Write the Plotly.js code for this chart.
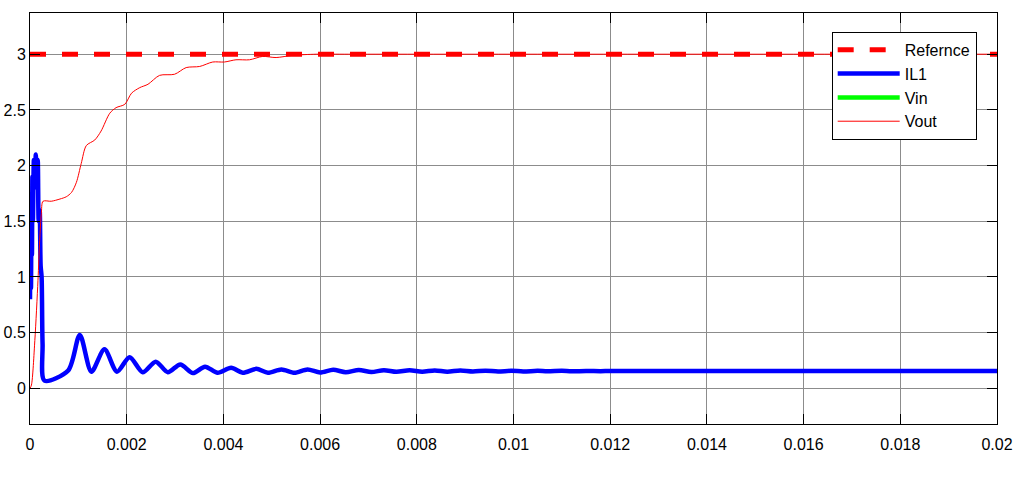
<!DOCTYPE html>
<html>
<head>
<meta charset="utf-8">
<script src="https://cdn.plot.ly/plotly-3.0.1.min.js"></script>
<style>
  html, body { margin: 0; padding: 0; background: #fff; }
  #chart { width: 1025px; height: 482px; }
</style>
</head>
<body>
<div id="chart"></div>
<script>
// уставка
const refTime = [0, 0.02];
const refValue = [3, 3];

// ток дросселя IL1
const ilTime = [0, 0.00001, 0.00002, 0.00003, 0.00004, 0.00005, 0.00006, 0.00008, 0.0001, 0.00012,
  0.00014, 0.00016, 0.00018, 0.0002, 0.00022, 0.00024, 0.00026, 0.0003, 0.00079, 0.00103,
  0.00127, 0.00154, 0.0018, 0.00206, 0.00233, 0.0026, 0.00285, 0.00311, 0.00337, 0.00362,
  0.00388, 0.00416, 0.0044, 0.00468, 0.00492, 0.0052, 0.00547, 0.00574, 0.006, 0.00627,
  0.00653, 0.0068, 0.00706, 0.00732, 0.00758, 0.00785, 0.00811, 0.00837, 0.00863, 0.0089,
  0.00916, 0.00942, 0.00968, 0.00995, 0.0102, 0.0105, 0.0107, 0.011, 0.0112, 0.0115,
  0.0118, 0.012, 0.013, 0.02];
const ilValue = [0.8, 1.3, 0.9, 1.6, 1.2, 1.9, 1.5, 2.05, 1.8, 2.1,
  1.9, 2.05, 1.5, 1.6, 1.1, 1.0, 0.4, 0.07, 0.16, 0.48,
  0.15, 0.35, 0.15, 0.28, 0.145, 0.24, 0.145, 0.215, 0.137, 0.195,
  0.14, 0.185, 0.14, 0.175, 0.14, 0.17, 0.14, 0.17, 0.142, 0.167,
  0.145, 0.165, 0.147, 0.163, 0.148, 0.162, 0.149, 0.161, 0.15, 0.16,
  0.151, 0.159, 0.151, 0.158, 0.152, 0.157, 0.153, 0.157, 0.153, 0.156,
  0.154, 0.156, 0.155, 0.155];

// входное напряжение (на графике не видно, только в легенде)
const vinTime = [0];
const vinValue = [null];

// выходное напряжение
const voutTime = [0, 0.00003, 0.0001, 0.000165, 0.0002, 0.000235, 0.00027, 0.00044, 0.00062, 0.00075,
  0.00086, 0.00096, 0.00106, 0.001165, 0.00134, 0.00147, 0.00165, 0.00178, 0.00196, 0.0021,
  0.00227, 0.00244, 0.00268, 0.00299, 0.00323, 0.00351, 0.00378, 0.00402, 0.00426, 0.00454,
  0.00481, 0.00509, 0.00543, 0.00592, 0.0065, 0.02];
const voutValue = [0, 0.03, 0.43, 0.97, 1.33, 1.57, 1.68, 1.68, 1.70, 1.72,
  1.76, 1.85, 2.02, 2.18, 2.23, 2.31, 2.47, 2.52, 2.55, 2.65,
  2.70, 2.73, 2.81, 2.82, 2.88, 2.89, 2.93, 2.93, 2.95, 2.95,
  2.98, 2.97, 2.99, 3.00, 3.00, 3.00];

const traces = [
  {
    x: refTime, y: refValue, name: 'Refernce', type: 'scatter', mode: 'lines',
    line: { color: '#ff0000', width: 5, dash: '16px,16px' }
  },
  {
    x: ilTime, y: ilValue, name: 'IL1', type: 'scatter', mode: 'lines',
    line: { color: '#0000ff', width: 4.5, shape: 'spline', smoothing: 0.8 }
  },
  {
    x: vinTime, y: vinValue, name: 'Vin', type: 'scatter', mode: 'lines',
    line: { color: '#00ff00', width: 4.5 }
  },
  {
    x: voutTime, y: voutValue, name: 'Vout', type: 'scatter', mode: 'lines',
    line: { color: '#ff0000', width: 1, shape: 'spline', smoothing: 0.8 }
  }
];

const axisStyle = {
  showline: true,
  linecolor: '#000',
  linewidth: 1,
  mirror: 'ticks',
  ticks: 'inside',
  ticklen: 10,
  tickcolor: '#000',
  showgrid: true,
  gridcolor: '#8c8c8c',
  gridwidth: 1,
  zeroline: false
};

const layout = {
  width: 1025,
  height: 482,
  paper_bgcolor: '#fff',
  plot_bgcolor: '#fff',
  font: { family: 'Liberation Sans, Arial, sans-serif', size: 16, color: '#000' },
  margin: { l: 30, r: 28, t: 13, b: 58 },
  xaxis: { ...axisStyle, range: [0, 0.02], dtick: 0.002, tick0: 0, ticklabelstandoff: 6 },
  yaxis: { ...axisStyle, range: [-0.32, 3.37], dtick: 0.5, tick0: 0 },
  showlegend: true,
  legend: {
    x: 0.979, y: 0.954, xanchor: 'right', yanchor: 'top',
    bgcolor: '#fff', bordercolor: '#000', borderwidth: 1,
    font: { size: 16 },
    itemwidth: 62,
    tracegroupgap: 0
  }
};

Plotly.newPlot('chart', traces, layout, { displayModeBar: false, staticPlot: true });
</script>
</body>
</html>
